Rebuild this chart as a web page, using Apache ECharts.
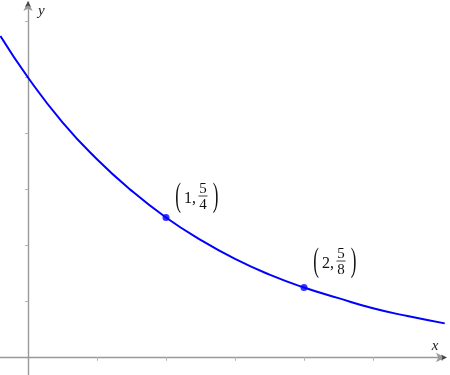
<!DOCTYPE html>
<html>
<head>
<meta charset="utf-8">
<script src="https://cdn.jsdelivr.net/npm/echarts@6/dist/echarts.min.js"></script>
<style>html,body{margin:0;padding:0;background:#fff;}#c{width:450px;height:375px;}</style>
</head>
<body>
<div id="c"></div>
<script>
// curve values
const curveX = [-0.2, 0, 0.25, 0.5, 0.75, 1, 1.25, 1.5, 1.75, 2, 2.25, 2.5, 2.75, 3.02];
const curveY = [2.87, 2.50, 2.10, 1.77, 1.49, 1.25, 1.05, 0.88, 0.74, 0.625, 0.53, 0.44, 0.37, 0.305];
// marked points
const pointX = [1, 2];
const pointY = [1.25, 0.625];
const labelInt = ['1', '2'];
const labelNum = ['5', '5'];
const labelDen = ['4', '8'];
// tick values (no tick labels)
const xTicks = [0.5, 1, 1.5, 2, 2.5, 3];
const yTicks = [0.5, 1, 1.5, 2, 2.5, 3];

// styles / positions
const labelOffsetX = [31, 31];
const labelOffsetY = [-20, -25];
const serif = 'Liberation Serif';
const axisColor = '#999999';
const tickColor = '#b4b4b4';
const X_MIN = -0.2029, X_MAX = 3.0217, Y_MIN = -0.156, Y_MAX = 3.174;

function xAx(inside, main) {
  return {
    type: 'value', min: X_MIN, max: X_MAX,
    name: main ? 'x' : '',
    nameLocation: 'end', nameGap: -10,
    nameTextStyle: { fontFamily: serif, fontStyle: 'italic', fontSize: 15, color: '#222',
      align: 'center', verticalAlign: 'bottom', lineHeight: 15, padding: [0, 0, 4, 0] },
    axisLine: { show: main, onZero: true, lineStyle: { color: axisColor, width: 1.4 },
      symbol: ['none', 'arrow'], symbolSize: [7, 9] },
    axisTick: { show: true, inside: inside, length: 3, customValues: xTicks, lineStyle: { color: tickColor, width: 1 } },
    axisLabel: { show: false },
    splitLine: { show: false }
  };
}
function yAx(inside, main) {
  return {
    type: 'value', min: Y_MIN, max: Y_MAX,
    name: main ? 'y' : '',
    nameLocation: 'end', nameGap: -9,
    nameTextStyle: { fontFamily: serif, fontStyle: 'italic', fontSize: 15, color: '#222',
      align: 'left', verticalAlign: 'middle', padding: [0, 0, 0, 10] },
    axisLine: { show: main, onZero: true, lineStyle: { color: axisColor, width: 1.4 },
      symbol: ['none', 'arrow'], symbolSize: [7, 9] },
    axisTick: { show: true, inside: inside, length: 3, customValues: yTicks, lineStyle: { color: tickColor, width: 1 } },
    axisLabel: { show: false },
    splitLine: { show: false }
  };
}

const chart = echarts.init(document.getElementById('c'), null, { renderer: 'canvas' });
const xEndVal = [X_MAX, 0];
const yEndVal = [0, Y_MAX];
chart.setOption({
  animation: false,
  backgroundColor: '#fff',
  grid: { left: 0, right: 5, top: 2, bottom: 0, containLabel: false },
  xAxis: [xAx(false, true), xAx(true, false)],
  yAxis: [yAx(false, true), yAx(true, false)],
  series: [
    {
      type: 'line', xAxisIndex: 0, yAxisIndex: 0,
      data: curveX.map((x, i) => [x, curveY[i]]),
      smooth: true, showSymbol: false,
      lineStyle: { color: '#0000ff', width: 2 },
      clip: true, z: 3
    },
    {
      type: 'scatter', xAxisIndex: 0, yAxisIndex: 0,
      data: pointX.map((x, i) => [x, pointY[i]]),
      symbol: 'circle', symbolSize: 7,
      itemStyle: { color: '#0000ff' }, z: 4
    },
    {
      type: 'custom', xAxisIndex: 0, yAxisIndex: 0,
      coordinateSystem: 'cartesian2d',
      encode: { x: 0, y: 1 },
      data: pointX.map((x, i) => [x, pointY[i], i]),
      silent: true, z: 5,
      renderItem: function (params, api) {
        const i = api.value(2);
        const p = api.coord([api.value(0), api.value(1)]);
        const cx = p[0] + labelOffsetX[i];
        const cy = p[1] + labelOffsetY[i];
        const col = '#111';
        const txt = (text, size, align) => ({ text: text, fontFamily: serif, fontSize: size, fill: col, align: align, verticalAlign: 'middle' });
        return {
          type: 'group',
          children: [
            { type: 'text', x: cx - 19, y: cy, scaleY: 2.0, style: txt('(', 17, 'center') },
            { type: 'text', x: cx - 13, y: cy + 1, style: txt(labelInt[i] + ',', 16, 'left') },
            { type: 'text', x: cx + 6, y: cy - 8.5, style: txt(labelNum[i], 15, 'center') },
            { type: 'line', shape: { x1: cx + 1.5, y1: cy - 1.5, x2: cx + 10.5, y2: cy - 1.5 },
              style: { stroke: col, lineWidth: 0.8 } },
            { type: 'text', x: cx + 6, y: cy + 7.5, style: txt(labelDen[i], 15, 'center') },
            { type: 'text', x: cx + 18.5, y: cy, scaleY: 2.0, style: txt(')', 17, 'center') }
          ]
        };
      }
    },
    {
      // arrowheads at the axis ends
      type: 'custom', xAxisIndex: 0, yAxisIndex: 0,
      coordinateSystem: 'cartesian2d',
      encode: { x: 0, y: 1 },
      clip: false, silent: true, z: 10,
      data: [[xEndVal[0], xEndVal[1], 0], [yEndVal[0], yEndVal[1], 1]],
      renderItem: function (params, api) {
        const p = api.coord([api.value(0), api.value(1)]);
        const horiz = api.value(2) === 0;
        const pts = horiz
          ? [[p[0] + 2, p[1]], [p[0] - 4, p[1] - 3], [p[0] - 2.5, p[1]], [p[0] - 4, p[1] + 3]]
          : [[p[0], p[1] - 1], [p[0] - 3, p[1] + 5], [p[0], p[1] + 3.5], [p[0] + 3, p[1] + 5]];
        return { type: 'polygon', shape: { points: pts }, style: { fill: '#444' } };
      }
    }
  ]
});
</script>
</body>
</html>
